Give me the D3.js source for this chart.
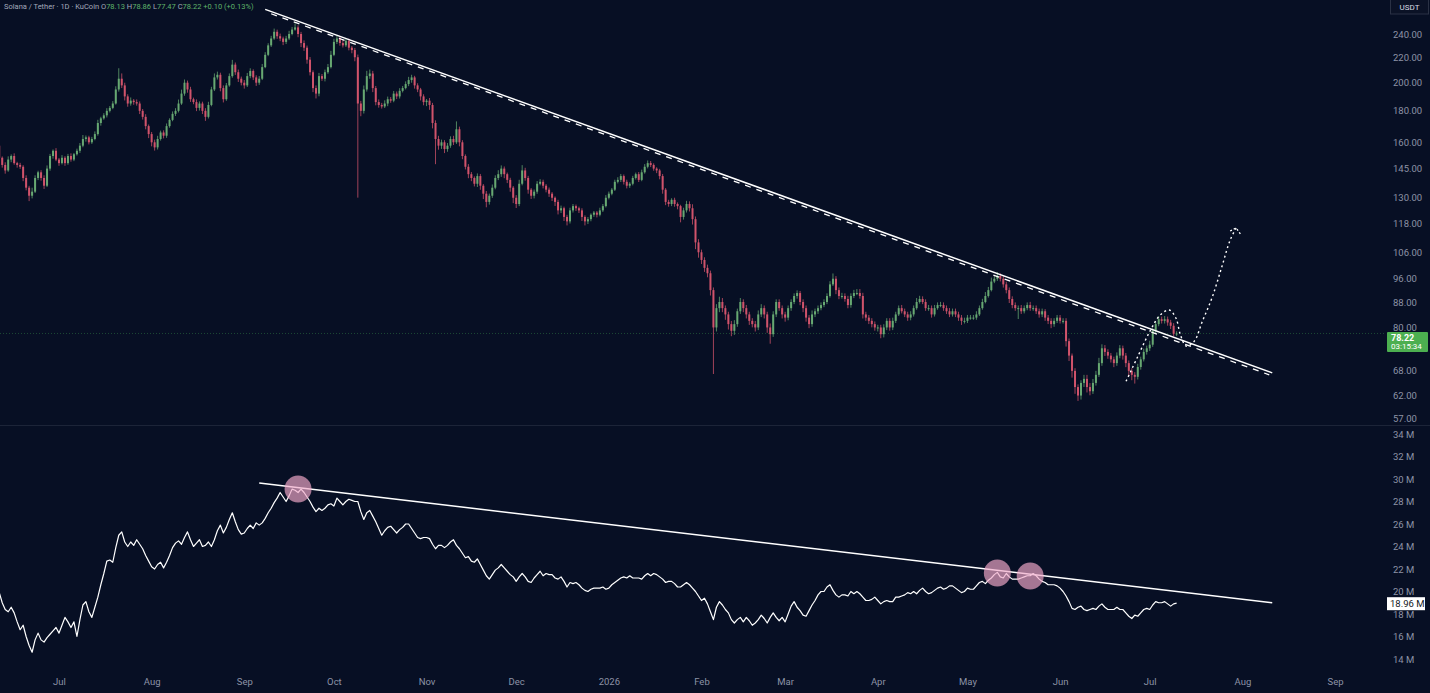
<!DOCTYPE html>
<html>
<head>
<meta charset="utf-8">
<script src="https://cdn.jsdelivr.net/npm/d3@7"></script>
<style>
html, body { margin: 0; padding: 0; background: #070f24; }
svg { display: block; font-family: Roboto, "Liberation Sans", sans-serif; }
</style>
</head>
<body>
<svg id="chart" width="1430" height="693"></svg>
<script>
// ---- data ----
var startDate = "2025-06-11";
var firstOpen = 158;

// daily closes (SOL/USDT), one per day from startDate
var closes = [
  151,147,144,150,152,148,147,146,140,135,131,133,140,143,140,136,145,152,155,150,148,
  151,148,152,150,153,155,158,162,163,160,162,165,172,175,177,180,182,185,195,203,
  198,190,185,187,186,185,180,176,170,165,160,157,162,166,164,170,174,178,180,185,
  192,200,195,188,186,182,185,180,176,184,195,204,206,196,188,198,205,214,208,203,
  200,198,205,209,204,200,203,212,222,230,236,242,238,236,233,236,240,244,246,240,
  232,228,218,208,196,192,205,203,208,212,222,233,236,232,230,234,228,226,220,185,
  180,195,205,207,196,186,184,183,185,188,187,
  192,190,194,196,199,202,204,198,195,190,186,187,184,172,162,158,160,156,158,162,
  160,168,160,152,146,142,140,137,141,136,132,128,131,135,140,142,145,142,139,135,
  130,127,137,144,140,134,131,133,137,138,136,134,132,130,128,124,125,121,119,124,
  126,125,124,121,119,120,122,123,122,124,126,130,132,134,138,139,141,138,136,137,
  140,142,139,143,146,148,147,145,144,141,134,128,127,129,127,126,121,124,127,125,
  120,110,106,103,100,98,92,80,86,88,86,84,81,79,81,85,88,86,84,82,81,
  80,84,86,84,80,78,84,88,86,84,83,86,88,90,91,88,86,83,81,84,
  85,86,87,88,90,94,96,92,90,90,89,87,90,91,91,90,84,83,82,81,
  80,80,78,80,82,80,82,84,86,85,84,83,84,86,88,89,88,86,86,84,
  86,87,87,86,85,84,85,84,83,82,82,83,83,83,84,86,88,90,92,95,
  96,97,96,94,92,89,87,86,86,85,86,87,86,86,85,84,85,83,82,81,
  82,83,82,82,76,72,68,64,62,65,66,64,63,65,67,70,74,73,72,71,
  70,72,74,72,70,68,67,66.5,69,71,73,74,75,79,81,82.5,82,82.5,81.5,80.5,78.13,78.22
];

// upper wick above the body, % of body top
var upWick = [
  .8,.5,1,1.2,.6,1,.5,.8,.6,1,.7,1.5,1,.6,.8,1,1.2,.8,.5,1,.6,
  1,.6,.8,1,.5,.8,1,1.5,.7,.6,.8,1,1.2,.6,.8,1,.7,.9,1.2,4,
  2,1,.8,1.2,.6,1,.8,.7,1,.6,.8,1,1.2,.7,.8,1,.6,.9,1,1.5,
  1.5,1.2,.8,1,.6,1,.8,.7,1,1.2,1,1.5,1.2,.8,1,.9,1,1.8,.8,1,
  .8,1,1.2,1,.6,.8,1,1.2,1,.8,1,1.2,.8,1,.7,1,1.2,1,1.5,.8,
  .8,1,.8,1,.7,1,1.2,.8,1,1.2,1.5,1.2,1,.8,1.2,1,.8,.6,.8,1,
  1,1.5,2,1.5,1,.8,1,.8,1.2,1,.8,
  1,.8,1,.8,1,1.2,1,.6,.8,.6,.8,.6,1,.8,1,1.2,1,.8,1,1,
  1.2,3,1,.8,.6,1,.8,.6,1,.8,.6,1,.8,1.2,1,1.5,1.2,.8,.6,.8,
  .6,1,1.5,2,1,.8,.6,.8,1,1,.8,.6,.8,.6,.5,.8,1,.6,.8,1,
  .8,.6,.6,.8,.6,.8,.5,.6,.6,1,.8,1,.8,.6,.8,1,.8,.6,.8,.6,
  .8,.6,.8,1,1,1,.8,.6,.5,.6,.8,.6,.8,.6,.8,.6,.5,1,1.2,1,
  1.5,1,1.2,1,1,1.2,1,1,1.5,2,1.5,1,1,1.2,1.5,1,1.5,1,1.2,1,1,
  1.2,1.5,1.5,1,1,1.5,1.2,1,1,1,1,1,1,1,1,.8,1,1,1,1.5,
  1,1,1,1,1,1.2,2,1,1,1.2,1,1.2,1,1.2,1.5,1.5,1.2,1,1,1,
  1,1,1,1.2,1,1,1.2,1,1,1.2,1,1,1.2,1,1.5,1.2,1,1,1.2,1,
  1.2,1,1.2,1,1,1.2,1,1,1,1,1.2,1,1,1,1.2,1,1.2,1.5,1.2,1.5,
  1,1.5,1,1,1,1,1,1,1,1.2,1,1,1.2,1,1,1,1,.8,1,1,
  1,1,1,1,1,1,.8,1,1,1,1.5,1.5,1.5,1.5,1.5,2,1.5,1.2,1,1,
  1,1.2,1.2,1,1,1,1,1,1.2,1,1.2,1,1.5,1,1,1.2,1,1.2,1,1,1,.82
];

// lower wick below the body, % of body bottom
var downWick = [
  .6,1,1.2,.5,1,.6,1,.8,1.2,1,2,1,.5,.8,1,1.2,.5,.8,1,.6,1,
  .5,1,.6,.8,.6,.5,.8,.6,1,.8,.6,.5,.6,1,.5,.8,.6,.5,.4,.8,
  1,1.5,1.2,.8,1,.8,1.2,1,1.2,1.5,1.5,1.2,.8,.6,1,.8,.6,.5,.8,.6,
  .5,.8,1.2,1,.8,1.2,1,1.2,1.5,.6,.5,.6,.8,1.2,1.2,.6,.5,.6,1,1.2,
  1,1.2,.6,.8,1,1.2,.8,.5,.4,.5,.6,.5,1,1,1.2,.8,.6,.5,.4,1.2,
  1.5,1.2,1.5,1.2,1.5,1.8,1,.8,1,.6,.5,.5,.8,1,.8,.6,1,1.2,1.5,29.7,
  2,1,.8,1,1.5,1.2,1,.8,.6,1,.8,
  .6,1,.8,.6,.5,.8,1,1.2,1,1.5,1.2,1.5,1.8,2,9,1.5,1.2,1.5,1,.8,
  1,.6,1.5,1.2,1,1.5,1.2,1,1.2,1.5,2,2,1,.8,.6,.8,1,1.5,1.2,1.5,
  2,1.5,.8,.6,1,1.5,1.2,1,.8,.6,1,1,1.2,1.2,1.5,1.5,1,1.5,1.5,.8,
  .8,1,1,1.5,1.5,1,.8,.8,1,.6,.6,.5,.6,.6,.5,.6,.8,1,1,.8,
  .6,.6,.8,.5,.5,.6,.8,.8,1,1.2,1.5,1.2,1,.8,1,1.2,2,1,.8,1.2,
  2,2.5,2,1.5,1.5,1.5,2,16,1.5,1.5,1.5,2,2,2,1.5,1,1,1.5,1.5,1.5,1.2,
  1.5,1,1,1.5,2,3.5,1,1,1,1.5,1.5,1,1,.8,1,1.2,1.5,1.5,1.5,1,
  1,1,.8,.8,.8,.6,.6,1.5,1.2,1,1,1.2,1,.8,.8,1,1.5,1.2,1.2,1.2,
  1.2,1.5,1.5,1.2,1,1.2,1,.8,.6,.8,1,1.2,1,.8,.6,.6,.8,1,1,1.2,
  .8,.6,.8,1,1,1,.8,1,1.2,1.5,1,.8,.8,.8,.8,.6,.6,.5,.6,.5,
  .6,.8,1,1.2,1.2,1.5,1.2,1,4,1,.8,.8,1,1,1,1.2,1,1.2,1.2,1.5,
  1,.8,1,1,2,2,2.5,2.5,2,1.5,1.5,2,1.5,1,1,.8,1,1.5,1.2,1.2,
  1.5,1,1,1.5,1.5,2,2,2.5,1,1,.8,1,1,.8,1,.8,1,1,1.2,1.2,1,.84
];

// lower pane line (millions), same days as the candles
var obvValues = [
  19.9,19.0,18.4,18.2,18.6,18.1,17.3,16.6,17.0,16.0,15.2,14.6,15.7,16.3,15.7,15.5,15.9,16.2,16.5,16.8,16.3,
  17.0,17.7,17.3,16.8,17.3,16.0,17.5,18.8,19.1,18.2,17.7,18.6,19.5,20.6,21.6,22.7,22.8,22.6,23.9,25.0,
  25.3,24.4,24.0,24.4,24.1,24.6,24.2,23.8,23.2,22.7,22.2,22.0,22.4,22.6,22.1,22.6,23.2,23.9,24.3,24.5,
  24.2,24.8,25.3,24.6,24.0,24.3,24.6,24.0,24.1,24.4,24.0,24.6,25.4,25.9,25.2,25.7,26.4,27.0,26.2,25.5,
  25.1,25.2,25.6,25.9,25.6,26.1,25.9,26.1,26.5,27.0,27.4,27.9,28.3,28.8,28.4,28.0,28.5,29.1,29.0,28.8,
  29.1,28.8,28.4,28.0,27.5,27.1,27.4,27.2,27.4,27.7,27.8,27.6,28.3,28.0,27.7,28.0,28.2,28.1,28.0,28.0,
  27.1,26.4,27.0,27.2,26.7,26.2,25.6,25.0,25.4,25.7,25.8,25.5,25.2,25.5,25.7,26.0,26.0,25.6,25.2,24.8,
  24.7,24.8,24.8,24.7,24.2,23.8,24.1,24.1,23.9,24.1,24.4,24.6,24.1,23.8,23.4,23.0,23.1,22.7,22.6,22.9,
  22.4,21.9,21.4,21.1,21.5,21.9,22.1,22.4,22.1,21.8,21.5,21.3,20.9,21.3,21.6,21.3,20.9,20.8,21.2,21.5,
  21.8,21.4,21.6,21.5,21.5,21.2,21.1,21.3,20.9,20.4,20.8,20.7,20.8,20.6,20.3,20.1,20.0,20.2,20.3,20.3,
  20.3,20.4,20.2,20.3,20.6,20.8,21.0,21.2,21.3,21.2,21.4,21.2,21.2,21.2,21.1,21.4,21.6,21.4,21.6,21.5,
  21.3,21.1,20.8,20.9,20.9,20.7,20.4,20.4,20.6,20.8,20.6,20.3,20.0,19.6,19.2,19.4,18.9,18.2,17.5,18.6,
  19.1,18.8,18.4,18.1,17.5,17.2,17.5,17.7,17.3,17.7,17.4,17.0,17.2,17.5,17.9,17.6,17.2,17.7,18.1,17.7,
  17.4,17.7,17.3,18.0,18.7,19.1,18.6,18.3,17.9,17.8,18.3,18.8,19.2,19.7,20.0,20.0,20.4,20.6,20.1,19.7,
  19.5,19.7,19.7,19.6,20.0,19.8,20.0,19.8,19.5,19.2,19.2,19.3,19.5,19.2,18.9,19.1,19.2,19.1,19.1,19.5,
  19.5,19.6,19.7,19.9,19.8,20.0,19.8,20.1,20.3,20.0,19.8,19.9,20.1,20.3,20.4,20.2,20.3,20.5,20.5,20.3,
  20.1,19.9,20.0,20.3,20.2,20.2,20.5,20.8,20.9,20.7,21.0,21.2,21.5,21.7,21.3,21.2,21.6,21.3,21.1,21.1,
  21.1,21.2,21.3,21.4,21.4,21.6,21.4,21.1,20.9,20.8,20.6,20.6,20.6,20.5,20.3,20.0,19.6,19.1,18.5,18.4,
  18.6,18.7,18.4,18.3,18.4,18.5,18.4,18.7,18.9,18.6,18.4,18.4,18.4,18.6,18.4,18.4,18.1,17.8,17.6,17.9,
  17.8,18.1,18.4,18.5,18.4,18.8,19.1,19.0,19.0,19.1,18.9,18.7,18.9,18.96
];

var priceTicks = [240, 220, 200, 180, 160, 145, 130, 118, 106, 96, 88, 80, 68, 62, 57];
var obvTicks = [34, 32, 30, 28, 26, 24, 22, 20, 18, 16, 14];
var monthTicks = ["2025-07-01","2025-08-01","2025-09-01","2025-10-01","2025-11-01","2025-12-01",
  "2026-01-01","2026-02-01","2026-03-01","2026-04-01","2026-05-01","2026-06-01","2026-07-01",
  "2026-08-01","2026-09-01"];
var monthLabels = ["Jul","Aug","Sep","Oct","Nov","Dec","2026","Feb","Mar","Apr","May","Jun","Jul","Aug","Sep"];

// drawn annotations: [date, value]
var resistanceLine = [["2025-09-08T00:00Z", 263.2], ["2026-08-11T00:00Z", 67.5]];
var resistanceDashed = [["2025-09-10T00:00Z", 258.9], ["2026-08-10T00:00Z", 67.0]];
var obvTrend = [["2025-09-06T00:00Z", 29.64], ["2026-08-11T00:00Z", 18.99]];
var obvTouches = [["2025-09-19T00:00Z", 29.11], ["2026-05-11T00:00Z", 21.64], ["2026-05-22T00:00Z", 21.38]];
var projection = [
  ["2026-06-23T02:00Z", 65.4], ["2026-06-27T02:00Z", 71.9], ["2026-07-01T02:00Z", 78.9],
  ["2026-07-04T12:00Z", 83.8], ["2026-07-07T12:00Z", 85.4], ["2026-07-09T19:00Z", 82.8],
  ["2026-07-11T05:00Z", 78.0], ["2026-07-13T05:00Z", 74.6], ["2026-07-15T22:00Z", 76.0],
  ["2026-07-18T12:00Z", 81.6], ["2026-07-21T22:00Z", 89.6], ["2026-07-25T05:00Z", 100.7],
  ["2026-07-27T22:00Z", 111.0], ["2026-07-29T22:00Z", 116.1]
];
var lastPrice = 78.22, lastObv = 18.96;
var dayChange = 0.10, dayChangePct = 0.13;
var countdown = "03:15:34";

// ---- layout ----
var W = 1430, H = 693, plotRight = 1385;
var bg = "#070f24", upColor = "#67a872", downColor = "#d0536b";
var axisText = "#8d93a6";

var svg = d3.select("#chart");
svg.append("rect").attr("width", W).attr("height", H).attr("fill", bg);

var defs = svg.append("defs");
defs.append("clipPath").attr("id", "clipTop").append("rect")
  .attr("x", 0).attr("y", 0).attr("width", plotRight).attr("height", 425);
defs.append("clipPath").attr("id", "clipBottom").append("rect")
  .attr("x", 0).attr("y", 426).attr("width", plotRight).attr("height", 242);

var x = d3.scaleUtc()
  .domain([Date.UTC(2025, 6, 1), Date.UTC(2026, 8, 1)])
  .range([59, 1335]);
var yP = d3.scaleLog().domain([57, 240]).range([418, 34]);
var yV = d3.scaleLinear().domain([14, 34]).range([659, 434]);

var day0 = d3.utcParse("%Y-%m-%d")(startDate);
var candles = closes.map(function(c, i) {
  var o = i === 0 ? firstOpen : closes[i - 1];
  return {
    date: d3.utcDay.offset(day0, i),
    open: o, close: c,
    high: Math.max(o, c) * (1 + (upWick[i] || 0) / 100),
    low: Math.min(o, c) * (1 - (downWick[i] || 0) / 100)
  };
});
var obv = obvValues.map(function(v, i) { return { date: d3.utcDay.offset(day0, i), value: v }; });
function pt(d) { return { date: d3.isoParse(d[0]), value: d[1] }; }

// pane separator
svg.append("line").attr("x1", 0).attr("x2", W).attr("y1", 425.5).attr("y2", 425.5)
  .attr("stroke", "#1c2438").attr("stroke-width", 1);

// ---- upper pane ----
var pricePane = svg.append("g").attr("clip-path", "url(#clipTop)");

// last price line
pricePane.append("line")
  .attr("x1", 0).attr("x2", plotRight)
  .attr("y1", yP(lastPrice)).attr("y2", yP(lastPrice))
  .attr("stroke", "#1d4a36").attr("stroke-width", 1).attr("stroke-dasharray", "1,2");

pricePane.selectAll("line.wick").data(candles).enter().append("line")
  .attr("class", "wick")
  .attr("x1", function(d) { return x(d.date); })
  .attr("x2", function(d) { return x(d.date); })
  .attr("y1", function(d) { return yP(d.high); })
  .attr("y2", function(d) { return yP(d.low); })
  .attr("stroke", function(d) { return d.close >= d.open ? upColor : downColor; })
  .attr("stroke-width", 0.9)
  .attr("opacity", 0.85);

pricePane.selectAll("rect.body").data(candles).enter().append("rect")
  .attr("class", "body")
  .attr("x", function(d) { return x(d.date) - 1; })
  .attr("width", 2)
  .attr("y", function(d) { return yP(Math.max(d.open, d.close)); })
  .attr("height", function(d) { return Math.max(1, yP(Math.min(d.open, d.close)) - yP(Math.max(d.open, d.close))); })
  .attr("fill", function(d) { return d.close >= d.open ? upColor : downColor; });

var priceLine = d3.line().x(function(d) { return x(d.date); }).y(function(d) { return yP(d.value); });

pricePane.append("path").datum(resistanceLine.map(pt))
  .attr("d", priceLine).attr("fill", "none")
  .attr("stroke", "#ffffff").attr("stroke-width", 1.5);

pricePane.append("path").datum(resistanceDashed.map(pt))
  .attr("d", priceLine).attr("fill", "none")
  .attr("stroke", "#ffffff").attr("stroke-width", 1.3).attr("stroke-dasharray", "6,6");

var proj = projection.map(pt);
pricePane.append("path").datum(proj)
  .attr("d", priceLine.curve(d3.curveCatmullRom)).attr("fill", "none")
  .attr("stroke", "#ffffff").attr("stroke-width", 1.4).attr("stroke-dasharray", "2,3");
var tip = proj[proj.length - 1];
var tx = x(tip.date), ty = yP(tip.value);
pricePane.append("path")
  .attr("d", "M" + (tx - 6) + "," + (ty + 3) + "L" + tx + "," + ty + "L" + (tx + 5) + "," + (ty + 7))
  .attr("fill", "none").attr("stroke", "#ffffff").attr("stroke-width", 1.3).attr("stroke-dasharray", "2,2");

// ---- lower pane ----
var obvPane = svg.append("g").attr("clip-path", "url(#clipBottom)");
var obvLine = d3.line().x(function(d) { return x(d.date); }).y(function(d) { return yV(d.value); });

obvPane.append("path").datum(obvTrend.map(pt))
  .attr("d", obvLine).attr("fill", "none")
  .attr("stroke", "#ffffff").attr("stroke-width", 1.5);

obvPane.append("path").datum(obv)
  .attr("d", obvLine).attr("fill", "none")
  .attr("stroke", "#ffffff").attr("stroke-width", 1.2).attr("stroke-linejoin", "round");

obvPane.selectAll("circle.touch").data(obvTouches.map(pt)).enter().append("circle")
  .attr("class", "touch")
  .attr("cx", function(d) { return x(d.date); })
  .attr("cy", function(d) { return yV(d.value); })
  .attr("r", 13.5)
  .attr("fill", "#f0a8c8").attr("fill-opacity", 0.68);

// ---- axes ----
var priceAxis = svg.append("g").attr("transform", "translate(1391,0)")
  .call(d3.axisRight(yP).tickValues(priceTicks).tickFormat(d3.format(".2f")).tickSize(0));
var obvAxis = svg.append("g").attr("transform", "translate(1391,0)")
  .call(d3.axisRight(yV).tickValues(obvTicks).tickFormat(function(d) { return d + " M"; }).tickSize(0));
var timeAxis = svg.append("g").attr("transform", "translate(0,675)")
  .call(d3.axisBottom(x).tickValues(monthTicks.map(function(s) { return d3.utcParse("%Y-%m-%d")(s); }))
    .tickFormat(function(d, i) { return monthLabels[i]; }).tickSize(0));
[priceAxis, obvAxis, timeAxis].forEach(function(a) {
  a.select(".domain").remove();
  a.selectAll("text").attr("fill", axisText).attr("font-size", 9.5)
    .attr("font-family", "Roboto, 'Liberation Sans', sans-serif");
});
priceAxis.selectAll("text").attr("x", 2);
obvAxis.selectAll("text").attr("x", 2);

// currency box
svg.append("rect").attr("x", 1390.5).attr("y", -1).attr("width", 38).attr("height", 15)
  .attr("fill", "#0b1226").attr("stroke", "#2a3144");
svg.append("text").attr("x", 1409.5).attr("y", 10).attr("text-anchor", "middle")
  .attr("fill", "#d8dbe3").attr("font-size", 8).text("USDT");

// last price label, kept just under the 80.00 tick
var lp = yP(lastPrice);
svg.append("rect").attr("x", 1387).attr("y", lp - 1.5).attr("width", 41).attr("height", 20)
  .attr("fill", "#4caf50").attr("rx", 1);
svg.append("text").attr("x", 1391).attr("y", lp + 7.5).attr("fill", "#ffffff")
  .attr("font-size", 9).attr("font-weight", "bold").text(lastPrice.toFixed(2));
svg.append("text").attr("x", 1391).attr("y", lp + 16).attr("fill", "#ffffff")
  .attr("font-size", 8).text(countdown);

// last obv label
var lv = yV(lastObv);
svg.append("rect").attr("x", 1387).attr("y", lv - 6).attr("width", 38).attr("height", 13)
  .attr("fill", "#ffffff");
svg.append("text").attr("x", 1390).attr("y", lv + 4).attr("fill", "#131722")
  .attr("font-size", 9.5).text(lastObv.toFixed(2) + " M");

// header legend
var last = candles[candles.length - 1];
var head = svg.append("text").attr("x", 4).attr("y", 9).attr("font-size", 7.5).attr("fill", "#a4aabb");
head.append("tspan").text("Solana / Tether · 1D · KuCoin ");
[["O", last.open], ["H", last.high], ["L", last.low], ["C", last.close]].forEach(function(p) {
  head.append("tspan").attr("fill", "#a4aabb").text(" " + p[0]);
  head.append("tspan").attr("fill", "#5fb36a").text(p[1].toFixed(2));
});
head.append("tspan").attr("fill", "#5fb36a")
  .text(" +" + dayChange.toFixed(2) + " (+" + dayChangePct.toFixed(2) + "%)");
</script>
</body>
</html>
